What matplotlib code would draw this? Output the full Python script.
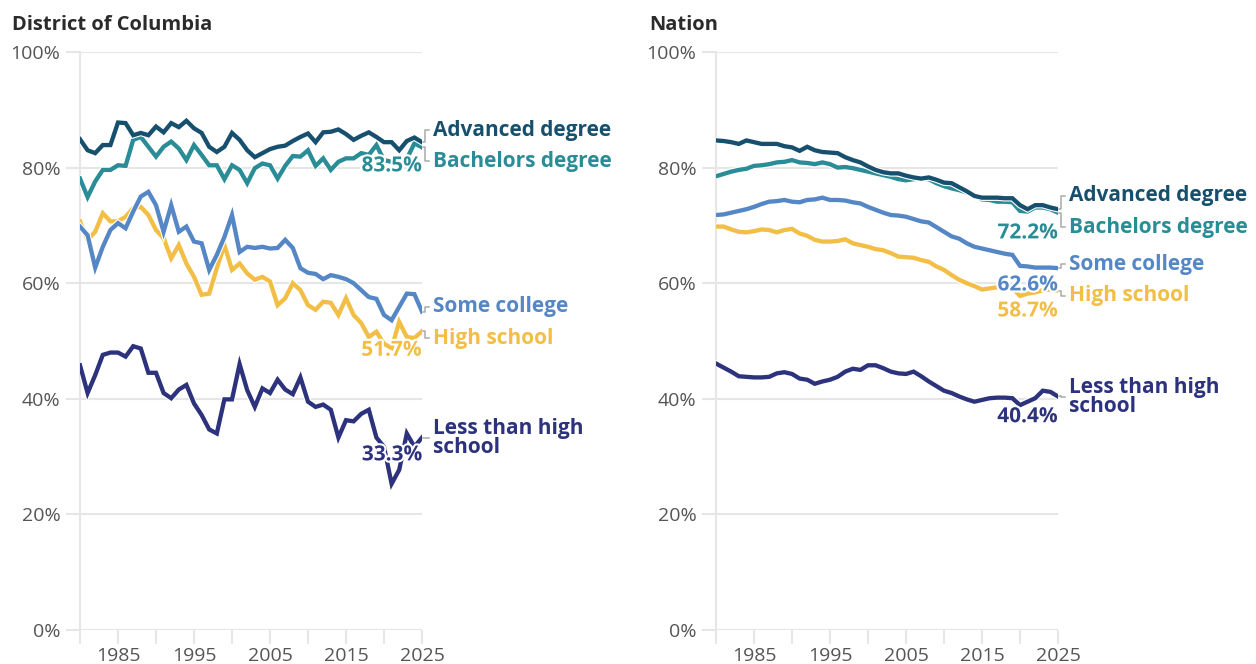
import matplotlib
matplotlib.use('Agg')
import matplotlib.pyplot as plt
import matplotlib.patheffects as pe

plt.rcParams['font.family'] = ['Open Sans', 'DejaVu Sans']

# years on the x axis, 1980 - 2025
years = list(range(1980, 2026))

series_names = ['Advanced degree', 'Bachelors degree', 'Some college', 'High school',
                'Less than high\nschool']
colors = ['#17506e', '#2a8c96', '#5587c6', '#f2be46', '#2d327d']

# District of Columbia, share in percent
dc_advanced = [84.9, 83.0, 82.5, 83.9, 83.9, 87.8, 87.7, 85.6, 86.0, 85.6,
               87.1, 86.1, 87.7, 87.0, 88.1, 86.8, 86.0, 83.6, 82.7, 83.6,
               86.0, 84.8, 83.0, 81.8, 82.5, 83.2, 83.6, 83.8, 84.6, 85.3,
               85.9, 84.4, 86.1, 86.2, 86.6, 85.8, 84.8, 85.5, 86.1, 85.3,
               84.4, 84.4, 83.0, 84.6, 85.2, 84.4]
dc_bachelors = [78.1, 74.9, 77.6, 79.6, 79.6, 80.4, 80.3, 84.8, 85.3, 83.6,
                81.9, 83.6, 84.5, 83.3, 81.3, 83.9, 82.2, 80.4, 80.4, 78.0,
                80.4, 79.6, 77.3, 79.9, 80.7, 80.4, 78.1, 80.3, 82.0, 81.9,
                83.0, 80.3, 81.6, 79.6, 81.0, 81.6, 81.6, 82.5, 82.2, 83.9,
                81.3, 81.0, 80.8, 81.5, 84.2, 83.5]
dc_some_college = [69.8, 68.3, 62.7, 66.3, 69.2, 70.4, 69.5, 72.4, 75.0, 75.8,
                   73.5, 68.9, 73.5, 68.9, 69.8, 67.2, 66.9, 62.3, 64.9, 68.0,
                   71.8, 65.4, 66.3, 66.1, 66.3, 66.0, 66.1, 67.5, 66.1, 62.6,
                   61.8, 61.6, 60.7, 61.4, 61.1, 60.7, 60.0, 58.8, 57.6, 57.3,
                   54.5, 53.6, 55.9, 58.2, 58.1, 55.1]
dc_high_school = [70.7, 67.5, 68.9, 72.1, 70.7, 70.7, 71.5, 73.0, 73.2, 71.8,
                  69.2, 67.8, 64.3, 66.6, 63.4, 61.1, 58.0, 58.2, 62.6, 66.6,
                  62.3, 63.4, 61.7, 60.6, 61.1, 60.3, 56.2, 57.4, 60.0, 58.8,
                  56.2, 55.4, 56.8, 56.6, 54.5, 57.4, 54.5, 53.1, 50.7, 51.6,
                  49.5, 48.8, 53.3, 50.7, 50.5, 51.7]
dc_less_hs = [45.8, 41.0, 44.1, 47.6, 48.0, 48.0, 47.3, 49.1, 48.7, 44.5,
              44.5, 41.0, 40.1, 41.6, 42.4, 39.2, 37.2, 34.7, 34.0, 39.9,
              39.9, 46.0, 41.5, 38.6, 41.8, 41.0, 43.3, 41.6, 40.8, 43.7,
              39.5, 38.6, 39.0, 38.1, 33.3, 36.3, 36.1, 37.4, 38.1, 33.3,
              31.7, 25.3, 27.7, 34.0, 31.7, 33.3]

# Nation, share in percent
us_advanced = [84.7, 84.6, 84.4, 84.1, 84.7, 84.4, 84.1, 84.1, 84.1, 83.7,
               83.5, 82.9, 83.6, 83.0, 82.7, 82.6, 82.5, 81.8, 81.3, 80.9,
               80.2, 79.6, 79.2, 79.0, 79.0, 78.6, 78.3, 78.1, 78.3, 77.9,
               77.4, 77.3, 76.6, 75.9, 75.1, 74.8, 74.8, 74.8, 74.7, 74.7,
               73.5, 72.8, 73.5, 73.5, 73.1, 72.8]
us_bachelors = [78.5, 78.9, 79.3, 79.6, 79.8, 80.3, 80.4, 80.6, 80.9, 81.0,
                81.3, 80.9, 80.8, 80.6, 80.9, 80.6, 80.0, 80.1, 79.9, 79.6,
                79.3, 79.0, 78.7, 78.4, 78.0, 77.8, 78.0, 78.1, 78.0, 77.3,
                76.8, 76.4, 76.1, 75.7, 75.3, 74.5, 74.4, 74.1, 74.1, 74.0,
                72.5, 72.4, 73.1, 73.1, 72.8, 72.2]
us_some_college = [71.8, 71.9, 72.2, 72.5, 72.8, 73.2, 73.7, 74.1, 74.2, 74.4,
                   74.1, 74.0, 74.4, 74.5, 74.8, 74.4, 74.4, 74.3, 74.0, 73.8,
                   73.2, 72.7, 72.2, 71.8, 71.7, 71.5, 71.1, 70.7, 70.5, 69.7,
                   68.9, 68.1, 67.7, 66.9, 66.3, 66.0, 65.7, 65.4, 65.1, 64.9,
                   63.0, 62.9, 62.7, 62.7, 62.7, 62.6]
us_high_school = [69.8, 69.8, 69.3, 68.9, 68.8, 69.0, 69.3, 69.2, 68.8, 69.2,
                  69.4, 68.6, 68.2, 67.5, 67.2, 67.2, 67.3, 67.6, 66.9, 66.6,
                  66.3, 65.9, 65.7, 65.2, 64.6, 64.5, 64.4, 64.0, 63.7, 62.9,
                  62.3, 61.4, 60.6, 60.0, 59.5, 58.9, 59.1, 59.3, 59.4, 59.2,
                  57.8, 58.2, 58.4, 58.8, 58.9, 58.7]
us_less_hs = [46.1, 45.4, 44.7, 43.9, 43.8, 43.7, 43.7, 43.8, 44.4, 44.6,
              44.3, 43.5, 43.3, 42.6, 43.0, 43.3, 43.8, 44.7, 45.2, 45.0,
              45.8, 45.8, 45.3, 44.7, 44.4, 44.3, 44.7, 43.9, 43.0, 42.2,
              41.4, 41.0, 40.4, 39.9, 39.5, 39.8, 40.1, 40.2, 40.2, 40.1,
              38.9, 39.5, 40.1, 41.4, 41.2, 40.4]

# where the series names sit (y, in %), and which end values get a number label
dc_label_y = [86.5, 81.1, 55.9, 50.5, 33.2]
us_label_y = [75.1, 69.7, 63.3, 57.8, 40.3]
dc_value_labels = {1: ('83.5%', 80.3), 3: ('51.7%', 48.4), 4: ('33.3%', 30.3)}
us_value_labels = {1: ('72.2%', 68.7), 2: ('62.6%', 59.7), 3: ('58.7%', 55.2), 4: ('40.4%', 36.9)}

grid_col = '#e6e6e6'
tick_col = '#555555'

fig = plt.figure(figsize=(12.56, 6.64), dpi=100)
ax_dc = fig.add_axes([80 / 1256, 34 / 664, 342 / 1256, 578 / 664])
ax_us = fig.add_axes([716 / 1256, 34 / 664, 342 / 1256, 578 / 664])


def draw_panel(ax, data, label_y, value_labels):
    # lines drawn bottom-up so advanced degree ends on top
    for i in reversed(range(len(data))):
        ax.plot(years, data[i], color=colors[i], lw=3.1, solid_joinstyle='miter',
                path_effects=[pe.Stroke(linewidth=4.7, foreground='white'), pe.Normal()],
                zorder=3 + (5 - i))

    end = years[-1]
    for i in range(len(data)):
        v = data[i][-1]
        ly = label_y[i]
        # little elbow connector from the line end to the label
        ax.plot([end + 0.15, end + 0.45, end + 0.45, end + 0.95], [v, v, ly, ly],
                color='#aaaaaa', lw=1.1, clip_on=False, zorder=2)
        ax.text(end + 1.45, ly, series_names[i], color=colors[i], fontsize=15,
                fontweight='bold', va='center', ha='left', linespacing=0.9,
                clip_on=False)
        if i in value_labels:
            txt, y = value_labels[i]
            ax.text(end, y, txt, color=colors[i], fontsize=15, fontweight='bold',
                    ha='right', va='center', zorder=10,
                    path_effects=[pe.withStroke(linewidth=3, foreground='white')])

    ax.set_xlim(1980, 2025)
    ax.set_ylim(0, 100)
    ax.set_yticks([0, 20, 40, 60, 80, 100])
    ax.set_yticklabels(['0%', '20%', '40%', '60%', '80%', '100%'])
    ax.set_xticks(list(range(1980, 2026, 5)))
    ax.set_xticklabels(['' if y % 10 == 0 else str(y) for y in range(1980, 2026, 5)])
    ax.grid(axis='y', color=grid_col, lw=1.5, zorder=0)
    ax.set_axisbelow(True)
    for s in ['top', 'right', 'bottom']:
        ax.spines[s].set_visible(False)
    ax.spines['left'].set_color(grid_col)
    ax.spines['left'].set_linewidth(1.5)
    ax.tick_params(axis='y', length=10, width=1.5, color=grid_col, labelcolor=tick_col,
                   labelsize=14, pad=4)
    ax.tick_params(axis='x', length=10, width=1.5, color=grid_col, labelcolor=tick_col,
                   labelsize=14, pad=2)


draw_panel(ax_dc, [dc_advanced, dc_bachelors, dc_some_college, dc_high_school, dc_less_hs],
           dc_label_y, dc_value_labels)
draw_panel(ax_us, [us_advanced, us_bachelors, us_some_college, us_high_school, us_less_hs],
           us_label_y, us_value_labels)

fig.text(12 / 1256, 1 - 25 / 664, 'District of Columbia', fontsize=14.5, fontweight='bold',
         color='#2b2b2b', va='center', ha='left')
fig.text(649 / 1256, 1 - 25 / 664, 'Nation', fontsize=14.5, fontweight='bold',
         color='#2b2b2b', va='center', ha='left')

fig.savefig('out.png', dpi=100)
